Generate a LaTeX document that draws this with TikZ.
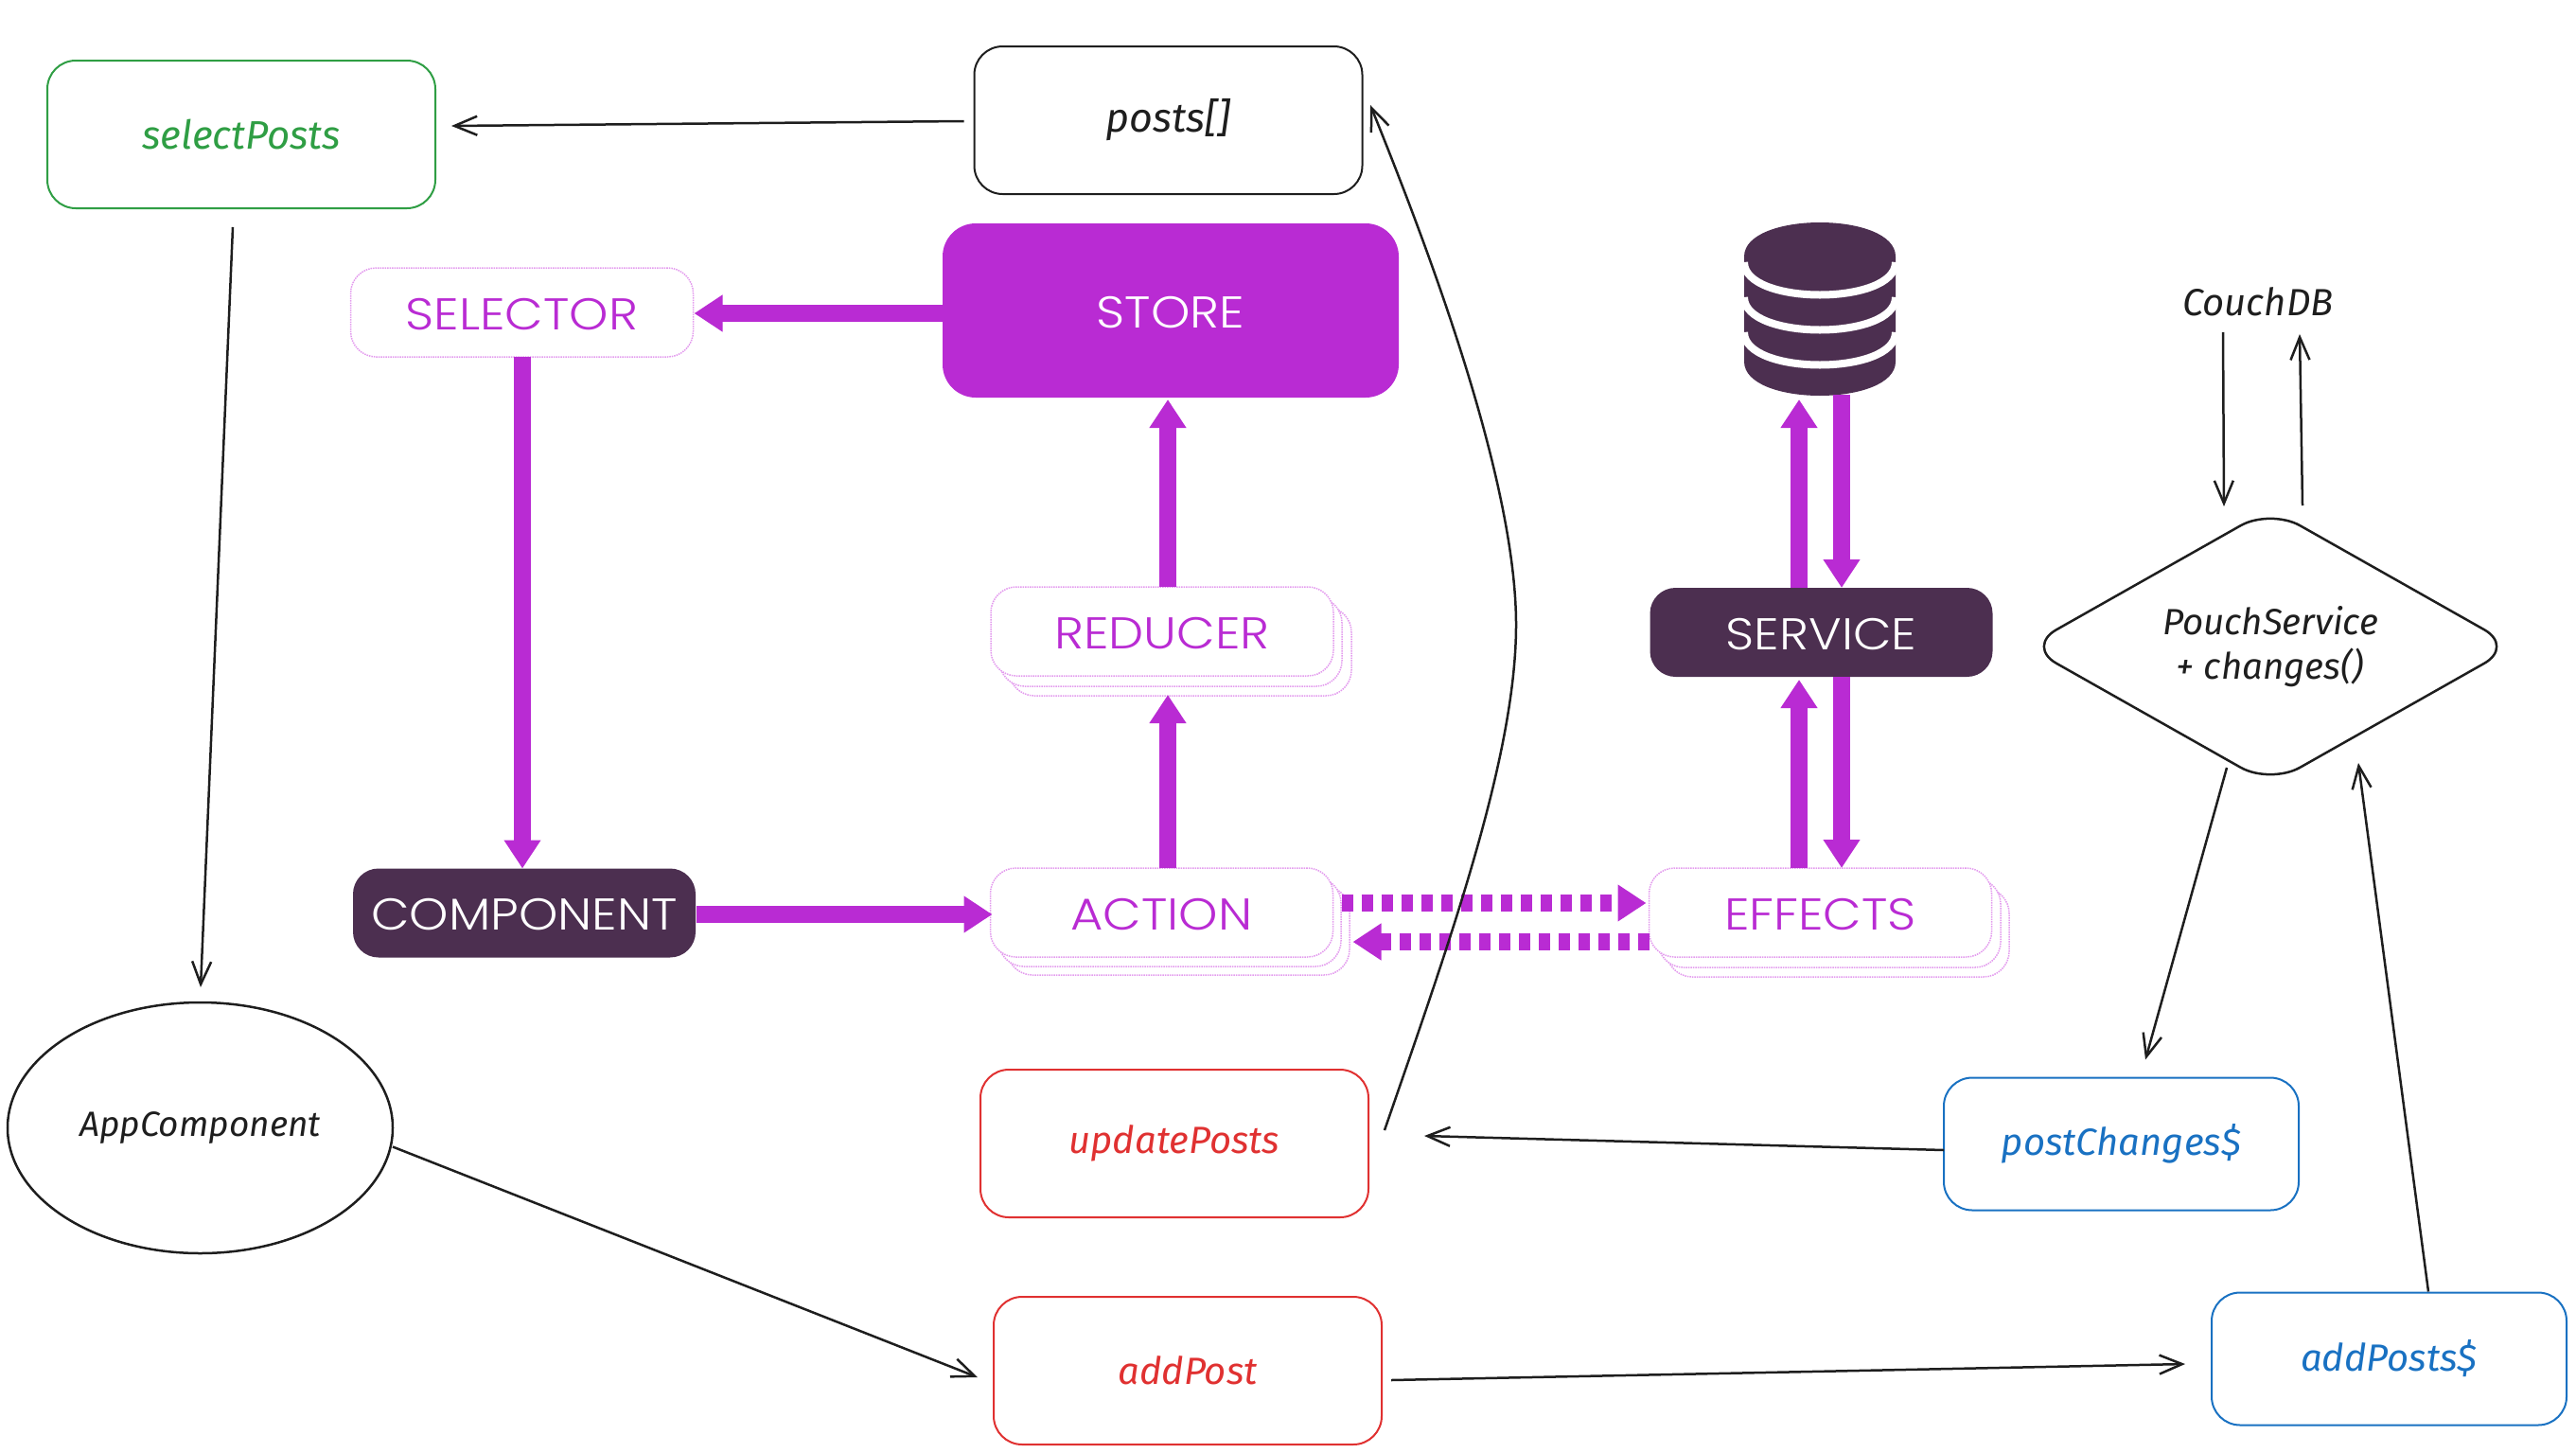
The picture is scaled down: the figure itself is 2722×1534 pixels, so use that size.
\documentclass[tikz,border=0pt]{standalone}
\usepackage{fontspec}
\usetikzlibrary{arrows.meta,shapes.geometric}
\newfontfamily\gothamfont[FakeStretch=1.12]{Poppins Light}
\newfontfamily\handfont{Fira Sans}
\definecolor{mag}{HTML}{B92BD3}
\definecolor{plum}{HTML}{4C2F50}
\definecolor{ink}{HTML}{1E1E1E}
\definecolor{edgepink}{HTML}{E39AEE}
\definecolor{sgreen}{HTML}{2F9E44}
\definecolor{sred}{HTML}{E03131}
\definecolor{sblue}{HTML}{1971C2}
\tikzset{
  every node/.style={inner sep=0pt,outer sep=0pt},
  gtext/.style={font=\gothamfont\fontsize{47}{56}\selectfont,text height=36pt,text depth=0pt},
  hand/.style={font=\handfont\itshape\fontsize{40}{48}\selectfont,text=ink,align=center},
  sketchbox/.style={hand,draw,line width=2pt,rounded corners=30pt,minimum width=410pt,minimum height=156pt},
  smallbox/.style={sketchbox,minimum width=375pt,minimum height=140pt},
  lightbox/.style={gtext,draw=edgepink,densely dotted,line width=1.5pt,fill=white,rounded corners=27pt,text=mag,minimum width=362pt,minimum height=94pt},
  darkbox/.style={gtext,fill=plum,text=white,rounded corners=27pt,minimum width=362pt,minimum height=94pt},
  fat/.style={draw=mag,line width=18pt,-{Triangle[length=30pt,width=37pt,fill=mag]}},
  fatdash/.style={fat,dash pattern=on 12pt off 9pt},
  thin arrow/.style={draw=ink,line width=2.5pt,-{Straight Barb[length=24pt,width=20pt,line width=2.5pt]}},
}
\begin{document}
\begin{tikzpicture}[x=1pt,y=-1pt]
\useasboundingbox (0,0) rectangle (2722,1534);
% sketch boxes
\node[sketchbox,draw=sgreen,text=sgreen,font=\handfont\itshape\fontsize{42}{50}\selectfont] (sel2) at (255,142) {selectPosts};
\node[sketchbox,draw=ink,font=\handfont\itshape\fontsize{43}{50}\selectfont] (posts) at (1234.5,127) {posts[]};
\node[sketchbox,draw=sred,text=sred] (update) at (1241,1208) {updatePosts};
\node[sketchbox,draw=sred,text=sred] (add) at (1255,1448) {addPost};
\node[smallbox,draw=sblue,text=sblue] (changes) at (2241.5,1208.5) {postChanges\$};
\node[smallbox,draw=sblue,text=sblue] (addp) at (2524.5,1435.5) {addPosts\$};
\node[hand,draw=ink,line width=2.5pt,ellipse,minimum width=407pt,minimum height=265pt,font=\handfont\itshape\fontsize{37}{44}\selectfont] (app) at (211.5,1191.5) {AppComponent};
\node[hand,draw=ink,line width=2.5pt,diamond,shape aspect=1.77,rounded corners=36pt,minimum width=515pt,minimum height=291pt,font=\handfont\itshape\fontsize{38.5}{47}\selectfont] (pouch) at (2399,683) {PouchService\\+ changes()};
\node[hand,minimum width=160pt,minimum height=60pt] (couch) at (2386,319) {CouchDB};
% NgRx diagram
\node[gtext,fill=mag,text=white,rounded corners=35pt,minimum width=482pt,minimum height=184pt] (store) at (1237,328) {STORE};
\node[lightbox,text=mag] (sel) at (551.5,330) {SELECTOR};
\node[darkbox] (comp) at (554,964.5) {COMPONENT};
\node[lightbox] (reducer3) at (1247,688) {};
\node[lightbox] (reducer2) at (1237,678) {};
\node[lightbox] (reducer) at (1228,667) {REDUCER};
\node[lightbox] (action3) at (1245,983) {};
\node[lightbox] (action2) at (1236,974) {};
\node[lightbox] (action) at (1227.5,964) {ACTION};
\node[darkbox] (service) at (1924.5,668) {SERVICE};
\node[lightbox] (effects3) at (1942,985) {};
\node[lightbox] (effects2) at (1933,975) {};
\node[lightbox] (effects) at (1923.5,964) {EFFECTS};
% database
\node[minimum width=160pt,minimum height=182pt] (db) at (1923,327) {};
\fill[plum] (1843,271) .. controls (1843,223) and (2003,223) .. (2003,271)
  -- (2003,382) .. controls (2003,430) and (1843,430) .. (1843,382) -- cycle;
\foreach \yy in {277,314,351}
  \draw[white,line width=8pt] (1843,\yy) .. controls (1843,\yy+46) and (2003,\yy+46) .. (2003,\yy);
% fat connectors
\draw[fat] ([yshift=-3pt]store.west) -- ([xshift=1pt,yshift=-1pt]sel.east);
\draw[fat] ([xshift=0.5pt]sel.south) -- ([xshift=-2pt]comp.north);
\draw[fat] ([xshift=1pt,yshift=-1.5pt]comp.east) -- ([xshift=2pt,yshift=-2pt]action.west);
\draw[fat] ([xshift=6pt]reducer.north) -- ([xshift=-3pt,yshift=-2pt]store.south);
\draw[fat] ([xshift=6.5pt]action.north) -- ([xshift=-13pt,yshift=1pt]reducer3.south);
\draw[fat] ([xshift=-23.5pt]service.north) -- ([xshift=-22pt,yshift=-4pt]db.south);
\draw[fat] ([xshift=23pt,yshift=1pt]db.south) -- ([xshift=21.5pt]service.north);
\draw[fat] ([xshift=-22.5pt]effects.north) -- ([xshift=-23.5pt,yshift=-3pt]service.south);
\draw[fat] ([xshift=21.5pt]service.south) -- ([xshift=22.5pt]effects.north);
\draw[fatdash] ([xshift=9pt,yshift=10pt]action.east) -- ([xshift=-3pt,yshift=10pt]effects.west);
\draw[fatdash] ([yshift=-31pt]effects.west) -- ([xshift=21pt,yshift=-31pt]action.east);
% thin connectors
\draw[thin arrow] ([xshift=-11pt,yshift=-1pt]posts.west) -- ([xshift=17pt,yshift=9pt]sel2.east);
\draw[thin arrow] ([xshift=-9pt,yshift=-20pt]sel2.south) -- ([xshift=0.5pt,yshift=16pt]app.north);
\draw[thin arrow] ([yshift=-20pt]app.east) -- ([xshift=-17pt,yshift=-7pt]add.west);
\draw[thin arrow] ([xshift=10pt,yshift=-10pt]add.east) -- ([xshift=-28pt,yshift=-5.5pt]addp.west);
\draw[thin arrow] ([yshift=-6.5pt]changes.west) -- ([xshift=59pt,yshift=8pt]update.east);
\draw[thin arrow] ([xshift=17pt,yshift=14pt]update.east) .. controls (1530,1000) and (1602,800) .. (1602,660) .. controls (1602,500) and (1500,240) .. ([xshift=8.5pt,yshift=16pt]posts.east);
\draw[thin arrow] ([xshift=-46pt,yshift=17.5pt]pouch.south) -- ([xshift=25.5pt,yshift=19pt]changes.north);
\draw[thin arrow] ([xshift=41.5pt,yshift=1pt]addp.north) -- ([xshift=93pt,yshift=22.5pt]pouch.south);
\draw[thin arrow] ([xshift=-37pt,yshift=-2pt]couch.south) -- ([xshift=-49pt,yshift=2.5pt]pouch.north);
\draw[thin arrow] ([xshift=34pt,yshift=3.5pt]pouch.north) -- ([xshift=44pt,yshift=-4pt]couch.south);
\end{tikzpicture}
\end{document}
